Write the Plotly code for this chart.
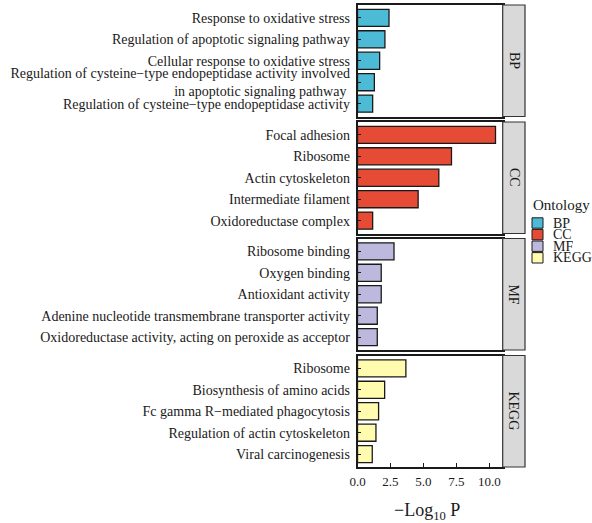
import plotly.graph_objects as go

# ---------------- data ----------------
ontologies = ["BP", "CC", "MF", "KEGG"]
ontology_colors = ["#4DBBD5", "#E64B35", "#BDB8DE", "#FFFBAF"]

bp_terms = [
    "Response to oxidative stress",
    "Regulation of apoptotic signaling pathway",
    "Cellular response to oxidative stress",
    "Regulation of cysteine\u2212type endopeptidase activity involved<br>in apoptotic signaling pathway\u00a0",
    "Regulation of cysteine\u2212type endopeptidase activity",
]
bp_values = [2.39, 2.08, 1.68, 1.28, 1.15]

cc_terms = [
    "Focal adhesion",
    "Ribosome",
    "Actin cytoskeleton",
    "Intermediate filament",
    "Oxidoreductase complex",
]
cc_values = [10.47, 7.13, 6.17, 4.60, 1.15]

mf_terms = [
    "Ribosome binding",
    "Oxygen binding",
    "Antioxidant activity",
    "Adenine nucleotide transmembrane transporter activity",
    "Oxidoreductase activity, acting on peroxide as acceptor",
]
mf_values = [2.77, 1.80, 1.80, 1.50, 1.50]

kegg_terms = [
    "Ribosome",
    "Biosynthesis of amino acids",
    "Fc gamma R\u2212mediated phagocytosis",
    "Regulation of actin cytoskeleton",
    "Viral carcinogenesis",
]
kegg_values = [3.67, 2.06, 1.60, 1.40, 1.12]

x_tickvals = [0, 2.5, 5, 7.5, 10]
x_ticktext = ["0.0", "2.5", "5.0", "7.5", "10.0"]
x_title = "\u2212Log<sub>10</sub> P"

panel_terms = [bp_terms, cc_terms, mf_terms, kegg_terms]
panel_values = [bp_values, cc_values, mf_values, kegg_values]

# ---------------- layout geometry ----------------
W, H = 592, 523
FONT = "Liberation Serif, Times New Roman, serif"
TXT = "#1a1a1a"
px0, px1 = 357.5, 502.5
panel_tops = [5, 122, 238.5, 355.5]
panel_h = 111.5
strip_x0, strip_x1 = 502.7, 525

fig = go.Figure()
layout = dict(
    width=W, height=H,
    margin=dict(l=0, r=0, t=0, b=0),
    paper_bgcolor="white", plot_bgcolor="white",
    template="none",
    showlegend=False,
    font=dict(family=FONT, color=TXT),
    bargap=0.2,
)
shapes = []
annotations = []

for i, (ont, col, terms, vals) in enumerate(zip(ontologies, ontology_colors, panel_terms, panel_values)):
    n = i + 1
    xa = "x" if n == 1 else f"x{n}"
    ya = "y" if n == 1 else f"y{n}"
    fig.add_trace(go.Bar(
        x=vals, y=terms, orientation="h",
        xaxis=xa, yaxis=ya,
        marker=dict(color=col, line=dict(color="#1a1a1a", width=1.3)),
        width=0.8, showlegend=False, hoverinfo="x+y",
    ))
    top = panel_tops[i]
    ydom = [1 - (top + panel_h) / H, 1 - top / H]
    last = (i == len(ontologies) - 1)
    xkey = "xaxis" if n == 1 else f"xaxis{n}"
    ykey = "yaxis" if n == 1 else f"yaxis{n}"
    layout[xkey] = dict(
        domain=[px0 / W, px1 / W], anchor=ya, range=[0, 11.0],
        showgrid=False, zeroline=False, automargin=False,
        showline=True, mirror=True, linecolor="#1a1a1a", linewidth=1.5,
        ticks="inside" if last else "", ticklen=4, tickwidth=1.2, tickcolor="#1a1a1a",
        tickvals=x_tickvals, ticktext=x_ticktext,
        showticklabels=last,
        tickfont=dict(family=FONT, size=13, color=TXT),
        ticklabelstandoff=2,
    )
    if n != 1:
        layout[xkey]["matches"] = "x"
    layout[ykey] = dict(
        domain=ydom, anchor=xa, type="category",
        categoryorder="array", categoryarray=terms,
        range=[len(terms) - 0.4, -0.6],
        showgrid=False, zeroline=False, automargin=False,
        showline=True, mirror=True, linecolor="#1a1a1a", linewidth=1.5,
        ticks="inside", ticklen=4, tickwidth=1.2, tickcolor="#1a1a1a",
        tickfont=dict(family=FONT, size=14, color=TXT),
        ticklabelstandoff=3,
    )
    # facet strip
    shapes.append(dict(
        type="rect", xref="paper", yref=f"{ya} domain",
        x0=strip_x0 / W, x1=strip_x1 / W, y0=0, y1=1,
        fillcolor="#D9D9D9", line=dict(color="#333333", width=1.2), layer="above",
    ))
    annotations.append(dict(
        text=ont, xref="paper", yref=f"{ya} domain",
        x=(strip_x0 + strip_x1) / 2 / W, y=0.5, showarrow=False,
        textangle=90, font=dict(family=FONT, size=14, color=TXT),
        xanchor="center", yanchor="middle",
    ))

# x axis title
annotations.append(dict(
    text=x_title, xref="paper", yref="paper",
    x=427 / W, y=1 - 511 / H, showarrow=False,
    font=dict(family=FONT, size=18, color=TXT), xanchor="center", yanchor="middle",
))

# legend (manual)
annotations.append(dict(
    text="Ontology", xref="paper", yref="paper",
    x=531 / W, y=1 - 205 / H, showarrow=False,
    font=dict(family=FONT, size=15, color=TXT), xanchor="left", yanchor="middle",
))
key_y0 = 223
key_dy = 11.6
for j, (ont, col) in enumerate(zip(ontologies, ontology_colors)):
    cy = key_y0 + j * key_dy
    shapes.append(dict(
        type="rect", xref="paper", yref="paper",
        x0=532 / W, x1=543 / W, y0=1 - (cy + 5.2) / H, y1=1 - (cy - 5.2) / H,
        fillcolor=col, line=dict(color="#1a1a1a", width=1),
    ))
    annotations.append(dict(
        text=ont, xref="paper", yref="paper",
        x=550.5 / W, y=1 - cy / H, showarrow=False, height=11, valign="middle",
        font=dict(family=FONT, size=14, color=TXT), xanchor="left", yanchor="middle",
    ))

layout["shapes"] = shapes
layout["annotations"] = annotations
fig.update_layout(**layout)
fig.write_html("out.html")
